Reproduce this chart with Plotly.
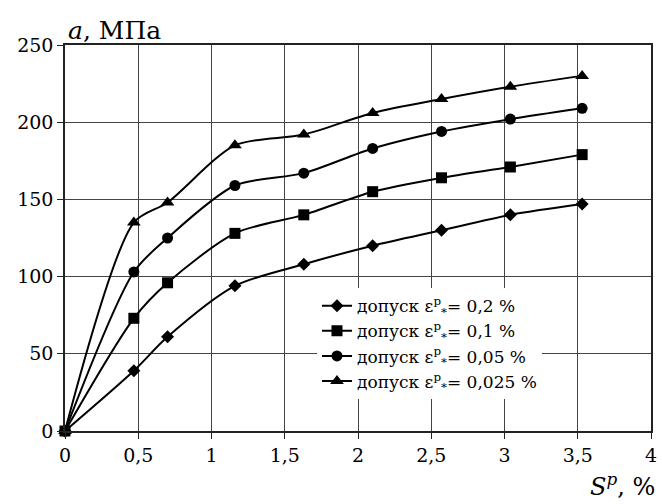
import plotly.graph_objects as go

x_vals = [0, 0.47, 0.70, 1.16, 1.63, 2.10, 2.57, 3.04, 3.53]
s_02 = [0, 39, 61, 94, 108, 120, 130, 140, 147]
s_01 = [0, 73, 96, 128, 140, 155, 164, 171, 179]
s_005 = [0, 103, 125, 159, 167, 183, 194, 202, 209]
s_0025 = [0, 135, 148, 185, 192, 206, 215, 223, 230]

names = ["допуск ε<sup>p</sup><sub>*</sub>= 0,2 %",
         "допуск ε<sup>p</sup><sub>*</sub>= 0,1 %",
         "допуск ε<sup>p</sup><sub>*</sub>= 0,05 %",
         "допуск ε<sup>p</sup><sub>*</sub>= 0,025 %"]
symbols = ["diamond", "square", "circle", "triangle-up"]
sizes = [10, 11, 11, 12]

x_tickvals = [0, 0.5, 1, 1.5, 2, 2.5, 3, 3.5, 4]
x_ticktext = ["0", "0,5", "1", "1,5", "2", "2,5", "3", "3,5", "4"]
y_tickvals = [0, 50, 100, 150, 200, 250]

FONT = "DejaVu Serif"

fig = go.Figure()
for ys, nm, sym, sz in zip([s_02, s_01, s_005, s_0025], names, symbols, sizes):
    fig.add_trace(go.Scatter(
        x=x_vals, y=ys, name=nm, mode="lines+markers",
        line=dict(color="black", width=2, shape="spline", smoothing=0.8),
        marker=dict(symbol=sym, size=sz, color="black"),
        cliponaxis=False))

fig.update_layout(
    width=662, height=504,
    margin=dict(l=65, r=5, t=45, b=73),
    paper_bgcolor="white", plot_bgcolor="white",
    font=dict(family=FONT, color="black", size=18),
    showlegend=True,
    legend=dict(x=0.43, y=0.37, xanchor="left", yanchor="top",
                bgcolor="white", font=dict(family=FONT, size=17),
                itemwidth=30, tracegroupgap=0),
    xaxis=dict(range=[0, 4], tickvals=x_tickvals, ticktext=x_ticktext,
               showgrid=True, gridcolor="#444", gridwidth=1.3,
               showline=True, linecolor="#222", linewidth=1.5, mirror=True,
               ticks="outside", ticklen=6, tickcolor="#222",
               zeroline=False, tickfont=dict(family=FONT, size=19)),
    yaxis=dict(range=[0, 250], tickvals=y_tickvals,
               showgrid=True, gridcolor="#444", gridwidth=1.3,
               showline=True, linecolor="#222", linewidth=1.5, mirror=True,
               ticks="outside", ticklen=6, tickcolor="#222",
               zeroline=False, tickfont=dict(family=FONT, size=19)),
    annotations=[
        dict(text="<i>a</i>, МПа", xref="paper", yref="paper", x=0, y=1,
             xanchor="left", yanchor="bottom", showarrow=False,
             font=dict(family=FONT, size=25), xshift=1, yshift=-2),
        dict(text="<i>S<sup>p</sup></i>, %", xref="paper", yref="paper", x=1, y=0,
             xanchor="right", yanchor="top", showarrow=False,
             font=dict(family=FONT, size=24), xshift=6, yshift=-36),
    ],
)

fig.write_html("out.html")
